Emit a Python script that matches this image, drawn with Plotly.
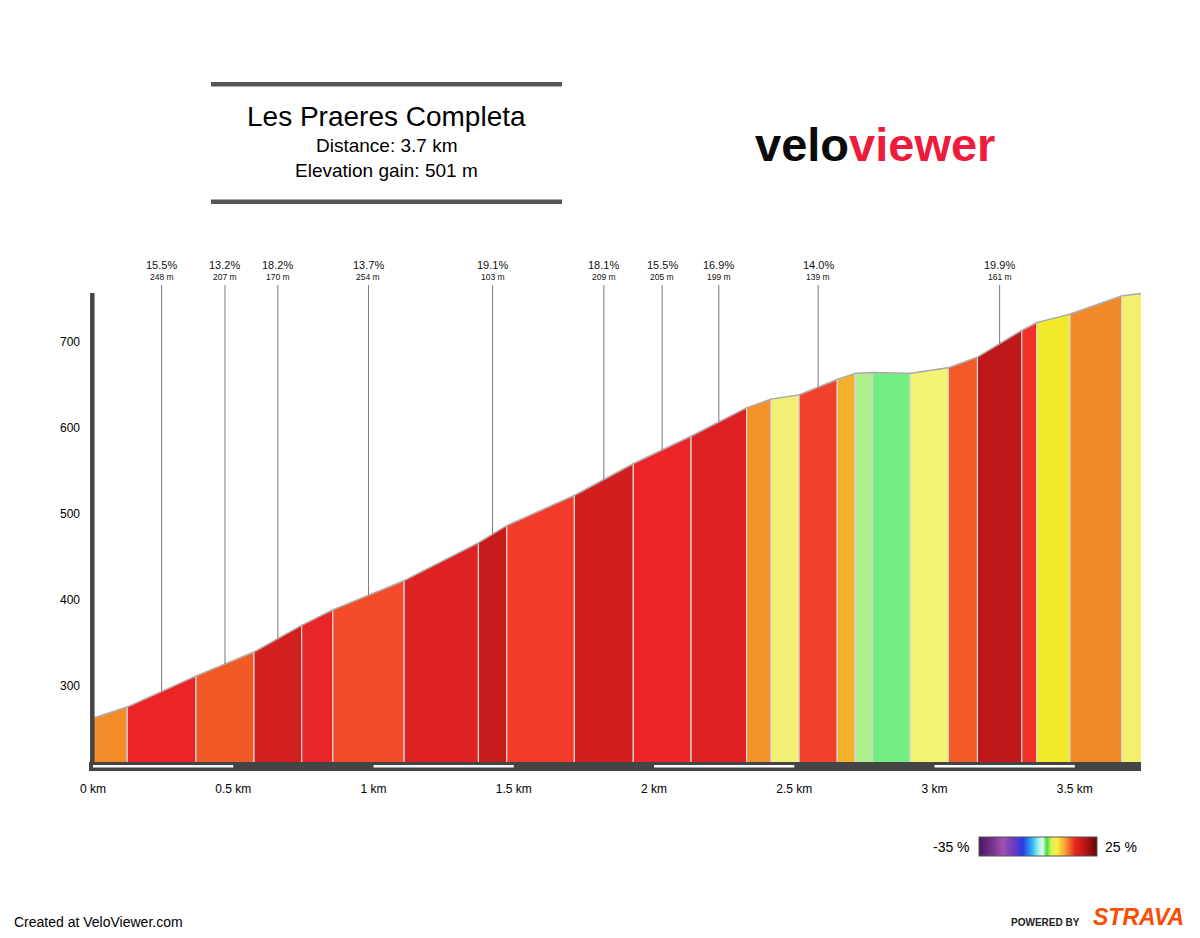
import numpy as np
import plotly.graph_objects as go

# profile: segment boundaries (km) and elevation (m)
DIST_KM = [0.000, 0.122, 0.367, 0.574, 0.744, 0.855, 1.109, 1.374, 1.475,
           1.716, 1.926, 2.132, 2.330, 2.417, 2.517, 2.653, 2.717, 2.778,
           2.913, 3.049, 3.153, 3.311, 3.364, 3.483, 3.667, 3.739]
ELEV_M = [262, 275, 311, 339, 370, 388, 422, 466, 486,
          521, 558, 590, 623, 633, 638, 656, 663, 664,
          663, 669.5, 682, 713, 722, 732, 753, 756]

# labelled climbs: segment index, gradient and length
CLIMB_SEG = [1, 2, 3, 5, 7, 9, 10, 11, 14, 20]
CLIMB_GRADE = ["15.5%", "13.2%", "18.2%", "13.7%", "19.1%",
               "18.1%", "15.5%", "16.9%", "14.0%", "19.9%"]
CLIMB_LEN = ["248 m", "207 m", "170 m", "254 m", "103 m",
             "209 m", "205 m", "199 m", "139 m", "161 m"]

X_TICKS = [0, 0.5, 1, 1.5, 2, 2.5, 3, 3.5]
X_TICK_TEXT = ["0 km", "0.5 km", "1 km", "1.5 km", "2 km", "2.5 km", "3 km", "3.5 km"]
Y_TICKS = [300, 400, 500, 600, 700]

TITLE = "Les Praeres Completa"
SUBTITLE = ["Distance: 3.7 km", "Elevation gain: 501 m"]
GRADE_MIN, GRADE_MAX = -35, 25

# --- styling ---
SEG_COLORS = ["#F28C28", "#EC2427", "#F15A24", "#D41F1F", "#E9242A", "#F24C29",
              "#DE2123", "#C81B1C", "#F23B28", "#D21E1E", "#EC2528", "#DE2224",
              "#F3922A", "#F2F073", "#F2412A", "#F3B02A", "#B0F08C", "#72EF80",
              "#F2F273", "#F25A28", "#C0181A", "#F2302A", "#F2E92A", "#F28A2A",
              "#F2F06E"]
GRADE_SCALE = [[0.0, "#4B1560"], [0.12, "#7A3590"], [0.2, "#A050B0"], [0.3, "#6A3AC0"],
               [0.37, "#2A3AE8"], [0.45, "#30B0F0"], [0.5, "#90F0F0"], [0.54, "#E8F8E8"],
               [0.575, "#38E038"], [0.61, "#D8F060"], [0.66, "#F8F040"], [0.73, "#F8A030"],
               [0.81, "#E82A20"], [0.9, "#B81515"], [1.0, "#600808"]]
FONT = "Liberation Sans, Arial, sans-serif"
Y_RANGE = [211.0, 829.7]
X_RANGE = [-0.0143, 3.736]
LABEL_TOP = 765.7


def px_x(px):
    # page pixel -> paper x (plot area spans 89..1141)
    return (px - 89) / 1052


def px_y(py):
    # page pixel -> paper y (plot area spans 230..762)
    return (762 - py) / 532


fig = go.Figure()

# coloured gradient blocks
for i in range(len(DIST_KM) - 1):
    x0, x1 = DIST_KM[i], DIST_KM[i + 1]
    e0, e1 = ELEV_M[i], ELEV_M[i + 1]
    base = Y_RANGE[0] - 10
    fig.add_trace(go.Scatter(
        x=[x0, x0, x1, x1, x0], y=[base, e0, e1, base, base],
        mode="lines", fill="toself", fillcolor=SEG_COLORS[i],
        line=dict(color="#D6D6D6", width=1.2),
        hoverinfo="skip", showlegend=False,
    ))

# outline of profile
fig.add_trace(go.Scatter(
    x=DIST_KM, y=ELEV_M, mode="lines",
    line=dict(color="#A8A8A8", width=1.3),
    hoverinfo="skip", showlegend=False,
))

# climb marker lines and labels
annotations = []
for seg, grade, length in zip(CLIMB_SEG, CLIMB_GRADE, CLIMB_LEN):
    xc = (DIST_KM[seg] + DIST_KM[seg + 1]) / 2
    ec = float(np.interp(xc, DIST_KM, ELEV_M))
    fig.add_trace(go.Scatter(
        x=[xc, xc], y=[ec, LABEL_TOP], mode="lines",
        line=dict(color="#7A7A7A", width=1),
        hoverinfo="skip", showlegend=False,
    ))
    annotations.append(dict(x=xc, y=789.5, xref="x", yref="y", text=grade,
                            xanchor="center", yanchor="middle",
                            showarrow=False, font=dict(size=11, color="#111")))
    annotations.append(dict(x=xc, y=775, xref="x", yref="y", text=length,
                            xanchor="center", yanchor="middle",
                            showarrow=False, font=dict(size=8.5, color="#111")))

# dummy trace carrying the gradient colour bar
fig.add_trace(go.Scatter(
    x=[-5], y=[0], mode="markers",
    marker=dict(color=[0], colorscale=GRADE_SCALE, cmin=GRADE_MIN, cmax=GRADE_MAX,
                showscale=True,
                colorbar=dict(orientation="h", x=px_x(1038), xanchor="center",
                              y=px_y(846.5), yanchor="middle",
                              lenmode="pixels", len=118, thickness=19,
                              outlinewidth=1, outlinecolor="#555",
                              showticklabels=False, ticks="", xpad=0, ypad=0)),
    hoverinfo="skip", showlegend=False,
))

# axes decorations
shapes = [
    dict(type="line", xref="x", yref="y", x0=-0.0025, x1=-0.0025,
         y0=Y_RANGE[0], y1=756.4, line=dict(color="#444", width=4.5)),
    dict(type="rect", xref="x", yref="paper", x0=X_RANGE[0], x1=DIST_KM[-1],
         y0=0, y1=px_y(771), fillcolor="#444", line=dict(width=0)),
]
for k in X_TICKS[::2]:
    shapes.append(dict(type="line", xref="x", yref="paper", x0=k, x1=k + 0.5,
                       y0=px_y(766.3), y1=px_y(766.3),
                       line=dict(color="white", width=2.5)))

# title block
for py in (84.3, 201.7):
    shapes.append(dict(type="line", xref="paper", yref="paper",
                       x0=px_x(211), x1=px_x(562), y0=px_y(py), y1=px_y(py),
                       line=dict(color="#555", width=4.5)))


def note(text, px, py, size, color="#000", anchor="center"):
    return dict(x=px_x(px), y=px_y(py), xref="paper", yref="paper", text=text,
                xanchor=anchor, yanchor="middle", showarrow=False,
                font=dict(size=size, color=color))


annotations += [
    note(TITLE, 386, 116, 28),
    note(SUBTITLE[0], 387, 146, 19),
    note(SUBTITLE[1], 386.5, 170, 19),
    # logo
    note("<b>velo</b><b><span style='color:#EE1C3C'>viewer</span></b>",
         874.5, 144, 47, color="#0A0A0A"),
    # colour bar ends
    note(f"{GRADE_MIN} %", 972, 846.5, 14, anchor="right"),
    note(f"{GRADE_MAX} %", 1103, 846.5, 14, anchor="left"),
    # footer
    note("Created at VeloViewer.com", 12, 921.5, 14, anchor="left"),
    note("<b>POWERED BY</b>", 1082, 922, 10, color="#222", anchor="right"),
    note("<b><i>STRAVA</i></b>", 1138, 917, 23, color="#FC4C02"),
]

# page body has an 8px margin, so the figure is 8px smaller than the window
fig.update_layout(
    width=1192, height=930,
    margin=dict(l=81, r=59, t=222, b=176),
    paper_bgcolor="white", plot_bgcolor="white",
    font=dict(family=FONT, color="#000"),
    showlegend=False, hovermode=False,
    shapes=shapes, annotations=annotations,
    xaxis=dict(range=X_RANGE, showgrid=False, zeroline=False, showline=False,
               tickvals=X_TICKS, ticktext=X_TICK_TEXT, ticks="",
               ticklabelstandoff=18, tickfont=dict(size=12)),
    yaxis=dict(range=Y_RANGE, showgrid=False, zeroline=False, showline=False,
               tickvals=Y_TICKS, ticks="", ticklabelstandoff=8,
               tickfont=dict(size=12)),
)

fig.write_html("out.html")
